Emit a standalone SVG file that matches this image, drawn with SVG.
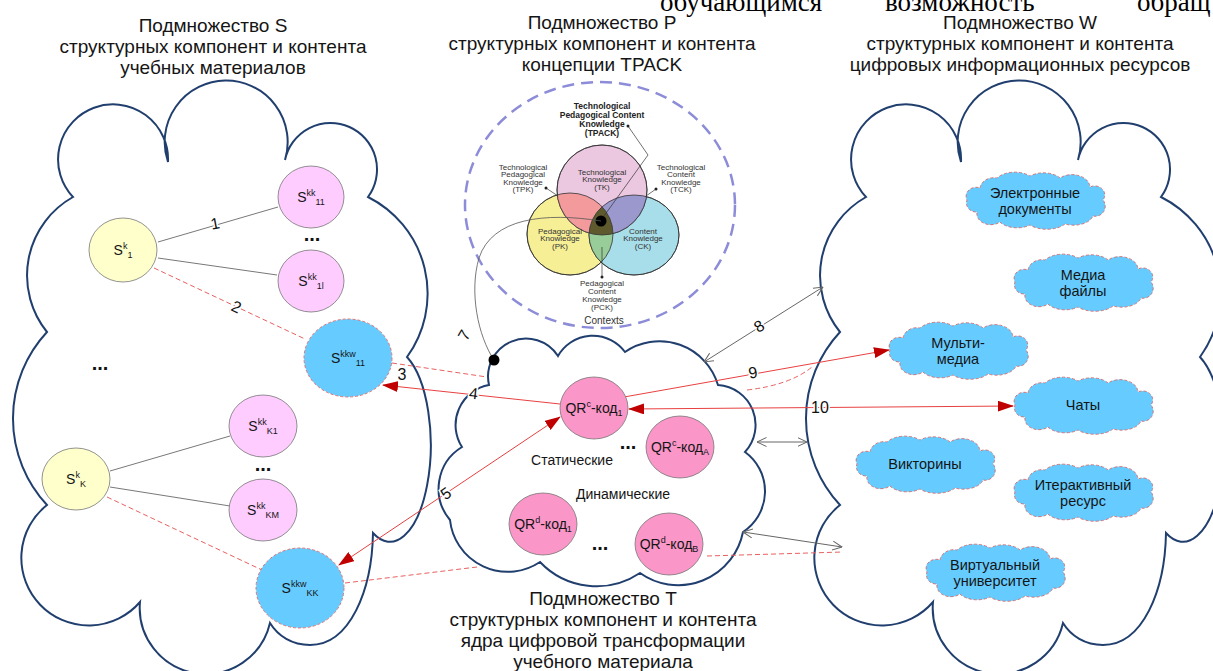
<svg xmlns="http://www.w3.org/2000/svg" xmlns:xlink="http://www.w3.org/1999/xlink" width="1213" height="671" viewBox="0 0 1213 671">
<defs>
<style>
.tt{font-family:"Liberation Sans",Arial,sans-serif;font-size:19px;fill:#151515;text-anchor:middle}
.nt{font-family:"Liberation Sans",Arial,sans-serif;font-size:14px;fill:#151515;text-anchor:middle}
.sp{font-size:9px}
.bt{font-family:"Liberation Sans",Arial,sans-serif;font-size:14.5px;fill:#151515;text-anchor:middle}
.tp{font-family:"Liberation Sans",Arial,sans-serif;font-size:8px;fill:#333;text-anchor:middle}
.tpb{font-family:"Liberation Sans",Arial,sans-serif;font-size:8.5px;font-weight:bold;fill:#222;text-anchor:middle}
.dots{font-family:"Liberation Sans",Arial,sans-serif;font-size:20px;font-weight:bold;fill:#111;text-anchor:middle}
.lbl{font-family:"Liberation Sans",Arial,sans-serif;font-size:16px;fill:#111;text-anchor:middle;paint-order:stroke;stroke:#fff;stroke-width:3px}
.big{fill:#fff;stroke:#213F6E;stroke-width:2}
.ny{fill:#FFFFCC;stroke:#777;stroke-width:0.8}
.np{fill:#FFCCFF;stroke:#777;stroke-width:0.8}
.nb{fill:#66CCFF;stroke:#E06666;stroke-width:0.9;stroke-dasharray:3 2}
.nq{fill:#FA96C8;stroke:#777;stroke-width:0.8}
.cl{fill:#66CCFF;stroke:#D86A6A;stroke-width:0.9;stroke-dasharray:3 2}
.gl{fill:none;stroke:#555;stroke-width:0.8}
.rl{fill:none;stroke:#E84040;stroke-width:1}
.rd{fill:none;stroke:#E86060;stroke-width:1;stroke-dasharray:5 3}
.gr{fill:none;stroke:#666;stroke-width:1}
.top{font-family:"Liberation Serif","Times New Roman",serif;font-size:27px;fill:#000}
</style>
<marker id="ar" viewBox="0 0 16 11" refX="15" refY="5.5" markerWidth="16" markerHeight="11" markerUnits="userSpaceOnUse" orient="auto-start-reverse"><path d="M0,0 L16,5.5 L0,11 z" fill="#C00000"/></marker>
<marker id="ag" viewBox="0 0 10 10" refX="9.5" refY="5" markerWidth="10" markerHeight="10" markerUnits="userSpaceOnUse" orient="auto-start-reverse"><path d="M0,0.5 L9.5,5 L0,9.5" fill="none" stroke="#666" stroke-width="1"/></marker>
<path id="bigcloud" d="M73,197 A55,55 0 1,1 168,162 A61.5,61.5 0 1,1 285,160 A46.5,46.5 0 1,1 368,197 A108,108 0 0,1 407,357 A40,95 0 1,1 373,533 C372,590 350,645 310,645 C292,645 278,636 270,623 A66,66 0 0,1 140,602 A67.5,67.5 0 1,1 47,505 A127,127 0 0,1 47,332 A90,90 0 0,1 73,197 Z"/>
<path id="bc" d="M-55,-12 A14,12 0 0,1 -38,-22 A22,14 0 0,1 -5,-24 A20,12 0 0,1 25,-22 A18,13 0 0,1 55,-13 A10,9 0 0,1 68,0 A10,10 0 0,1 58,16 A20,12 0 0,1 30,24 A22,12 0 0,1 -5,25 A20,12 0 0,1 -35,22 A14,11 0 0,1 -58,12 A10,9 0 0,1 -68,0 A10,9 0 0,1 -55,-12 Z"/>
<ellipse id="ePK" cx="570" cy="234" rx="43" ry="41"/>
<ellipse id="eCK" cx="634" cy="235" rx="45" ry="40"/>
<ellipse id="eTK" cx="602" cy="190" rx="45" ry="45"/>
<clipPath id="cPK"><use xlink:href="#ePK"/></clipPath>
<clipPath id="cCK"><use xlink:href="#eCK"/></clipPath>
<clipPath id="cTK"><use xlink:href="#eTK"/></clipPath>
</defs>
<rect width="1213" height="671" fill="#fff"/>

<text class="top" y="11"><tspan x="660">обучающимся</tspan><tspan x="885">возможность</tspan><tspan x="1137">обращ</tspan></text>

<g id="title-S"><text class="tt" x="213" y="32">Подмножество S</text><text class="tt" x="213" y="53">структурных компонент и контента</text><text class="tt" x="213" y="74">учебных материалов</text></g>
<g id="title-P"><text class="tt" x="602" y="29">Подмножество P</text><text class="tt" x="602" y="50">структурных компонент и контента</text><text class="tt" x="602" y="71">концепции TPACK</text></g>
<g id="title-W"><text class="tt" x="1020" y="29">Подмножество W</text><text class="tt" x="1020" y="50">структурных компонент и контента</text><text class="tt" x="1020" y="71">цифровых информационных ресурсов</text></g>
<g id="title-T"><text class="tt" x="603" y="605">Подмножество T</text><text class="tt" x="603" y="626">структурных компонент и контента</text><text class="tt" x="603" y="647">ядра цифровой трансформации</text><text class="tt" x="603" y="668">учебного материала</text></g>

<g id="cloud-S"><use xlink:href="#bigcloud" class="big"/></g>
<g id="cloud-W"><use xlink:href="#bigcloud" class="big" transform="translate(793,0)"/></g>

<g id="tpack">
<ellipse cx="600" cy="205" rx="135" ry="123" fill="none" stroke="#8C8CD8" stroke-width="2.5" stroke-dasharray="12 7"/>
<use xlink:href="#ePK" fill="#F7EF96" stroke="#333" stroke-width="0.8"/>
<use xlink:href="#eCK" fill="#A8DEE9" stroke="#333" stroke-width="0.8"/>
<use xlink:href="#eTK" fill="#EBC8E0" stroke="#333" stroke-width="0.8"/>
<g clip-path="url(#cTK)"><use xlink:href="#ePK" fill="#F29A9C"/><use xlink:href="#eCK" fill="#9A98CC"/></g>
<g clip-path="url(#cPK)"><use xlink:href="#eCK" fill="#98CC98"/><g clip-path="url(#cCK)"><use xlink:href="#eTK" fill="#5F5A2E"/></g></g>
<use xlink:href="#ePK" fill="none" stroke="#333" stroke-width="0.8"/>
<use xlink:href="#eCK" fill="none" stroke="#333" stroke-width="0.8"/>
<use xlink:href="#eTK" fill="none" stroke="#333" stroke-width="0.8"/>
<text class="tpb"><tspan x="602" y="109">Technological</tspan><tspan x="602" y="118">Pedagogical Content</tspan><tspan x="602" y="127">Knowledge</tspan><tspan x="602" y="136">(TPACK)</tspan></text>
<text class="tp"><tspan x="602" y="174.5">Technological</tspan><tspan x="602" y="182">Knowledge</tspan><tspan x="602" y="189.5">(TK)</tspan></text>
<text class="tp"><tspan x="523" y="169.5">Technological</tspan><tspan x="523" y="177">Pedagogical</tspan><tspan x="523" y="184.5">Knowledge</tspan><tspan x="523" y="192">(TPK)</tspan></text>
<text class="tp"><tspan x="681" y="169.5">Technological</tspan><tspan x="681" y="177">Content</tspan><tspan x="681" y="184.5">Knowledge</tspan><tspan x="681" y="192">(TCK)</tspan></text>
<text class="tp"><tspan x="560" y="233.5">Pedagogical</tspan><tspan x="560" y="241">Knowledge</tspan><tspan x="560" y="248.5">(PK)</tspan></text>
<text class="tp"><tspan x="643" y="233.5">Content</tspan><tspan x="643" y="241">Knowledge</tspan><tspan x="643" y="248.5">(CK)</tspan></text>
<text class="tp"><tspan x="602" y="286">Pedagogical</tspan><tspan x="602" y="294">Content</tspan><tspan x="602" y="302">Knowledge</tspan><tspan x="602" y="309.5">(PCK)</tspan></text>
<text class="tp" x="604" y="323.5" style="font-size:10px">Contexts</text>
<g stroke="#333" stroke-width="0.7" fill="none"><path d="M628,126 L648,155 L604,216"/><path d="M546,188 L558,196"/><path d="M656,189 L646,196"/><path d="M602,277 L602,247"/></g>
<g fill="#222"><circle cx="628" cy="126" r="1.5"/><circle cx="546" cy="188" r="1.5"/><circle cx="656" cy="189" r="1.5"/><circle cx="602" cy="277" r="1.5"/></g>
<circle cx="601" cy="221" r="5.5" fill="#000"/>
</g>

<g id="connectors-under">
<path class="rd" d="M345,583 L477,567"/>
</g>

<g id="cloud-T"><path class="big" d="M489,385 A38,38 0 0,1 558,356 A40,40 0 0,1 625,352 A61,61 0 0,1 718,385 A40,40 0 0,1 745,452 A48.6,48.6 0 0,1 743,532 A66,66 0 0,1 640,573 A78,78 0 0,1 540,562 A58,58 0 0,1 450,520 A48.8,48.8 0 0,1 462,447 A40.7,40.7 0 0,1 489,385 Z"/></g>

<g id="connectors">
<path class="gl" d="M158,242 L278,207"/>
<path class="gl" d="M158,258 L277,275"/>
<path class="rd" d="M154,268 L305,339"/>
<path class="gl" d="M110,471 L230,436"/>
<path class="gl" d="M110,487 L230,506"/>
<path class="rd" d="M107,497 L262,570"/>
<path class="gl" d="M601,221 C545,212 492,218 479,258 C469,292 478,336 494,360"/>
<circle cx="494" cy="360" r="5.5" fill="#000"/>
<path class="rd" d="M392,363 L487,377"/>
<path class="rl" d="M560,404 L383,385" marker-end="url(#ar)"/>
<path class="rl" d="M560,417 L339,565" marker-start="url(#ar)" marker-end="url(#ar)"/>
<path class="rd" d="M707,556 L843,552"/>
<path class="rl" d="M624,397 L889,350" marker-end="url(#ar)"/>
<path class="rl" d="M1013,406 L629,409" marker-start="url(#ar)" marker-end="url(#ar)"/>
<path class="rd" d="M747,390 Q790,385 812,367"/>
<path class="gr" d="M704,362 L823,287" marker-start="url(#ag)" marker-end="url(#ag)"/>
<path class="gr" d="M757,442 L807,442" marker-start="url(#ag)" marker-end="url(#ag)"/>
<path class="gr" d="M743,532 L842,547" marker-start="url(#ag)" marker-end="url(#ag)"/>
<text class="lbl" transform="translate(216,229) rotate(-11)">1</text>
<text class="lbl" transform="translate(234,312) rotate(25)">2</text>
<text class="lbl" x="402" y="380">3</text>
<text class="lbl" transform="translate(473,399) rotate(6)">4</text>
<text class="lbl" transform="translate(449,498) rotate(-34)">5</text>
<text class="lbl" transform="translate(469,338) rotate(-60)">7</text>
<text class="lbl" transform="translate(762,331) rotate(-32)">8</text>
<text class="lbl" transform="translate(754,378) rotate(-10)">9</text>
<text class="lbl" x="820" y="413">10</text>
</g>

<g id="n-Sk1"><ellipse class="ny" cx="123" cy="250" rx="34" ry="32"/><text class="nt" x="123" y="255">S<tspan class="sp" dy="-6">k</tspan><tspan class="sp" dy="9">1</tspan></text></g>
<g id="n-Skk11"><ellipse class="np" cx="311" cy="197" rx="33" ry="31"/><text class="nt" x="311" y="202">S<tspan class="sp" dy="-6">kk</tspan><tspan class="sp" dy="9">11</tspan></text></g>
<g id="n-Skk1l"><ellipse class="np" cx="311" cy="281" rx="33" ry="31"/><text class="nt" x="311" y="286">S<tspan class="sp" dy="-6">kk</tspan><tspan class="sp" dy="9">1l</tspan></text></g>
<g id="n-Skkw11"><ellipse class="nb" cx="348" cy="358" rx="44" ry="39"/><text class="nt" x="348" y="363">S<tspan class="sp" dy="-6">kkw</tspan><tspan class="sp" dy="9">11</tspan></text></g>
<g id="n-SkK"><ellipse class="ny" cx="76" cy="479" rx="34" ry="31"/><text class="nt" x="76" y="484">S<tspan class="sp" dy="-6">k</tspan><tspan class="sp" dy="9">K</tspan></text></g>
<g id="n-SkkK1"><ellipse class="np" cx="263" cy="426" rx="34" ry="31"/><text class="nt" x="263" y="431">S<tspan class="sp" dy="-6">kk</tspan><tspan class="sp" dy="9">K1</tspan></text></g>
<g id="n-SkkKM"><ellipse class="np" cx="263" cy="510" rx="34" ry="31"/><text class="nt" x="263" y="515">S<tspan class="sp" dy="-6">kk</tspan><tspan class="sp" dy="9">KM</tspan></text></g>
<g id="n-SkkwKK"><ellipse class="nb" cx="300" cy="588" rx="44" ry="40"/><text class="nt" x="300" y="593">S<tspan class="sp" dy="-6">kkw</tspan><tspan class="sp" dy="9">KK</tspan></text></g>
<g id="dots-S"><text class="dots" x="312" y="241">...</text><text class="dots" x="100" y="370">...</text><text class="dots" x="263" y="471">...</text></g>

<g id="n-QRc1"><ellipse class="nq" cx="594" cy="408" rx="34" ry="31"/><text class="nt" x="594" y="413">QR<tspan class="sp" dy="-6">c</tspan><tspan dy="6">-код</tspan><tspan class="sp" dy="3">1</tspan></text></g>
<g id="n-QRcA"><ellipse class="nq" cx="680" cy="447" rx="34" ry="31"/><text class="nt" x="680" y="452">QR<tspan class="sp" dy="-6">c</tspan><tspan dy="6">-код</tspan><tspan class="sp" dy="3">A</tspan></text></g>
<g id="n-QRd1"><ellipse class="nq" cx="543" cy="524" rx="34" ry="31"/><text class="nt" x="543" y="529">QR<tspan class="sp" dy="-6">d</tspan><tspan dy="6">-код</tspan><tspan class="sp" dy="3">1</tspan></text></g>
<g id="n-QRdB"><ellipse class="nq" cx="669" cy="544" rx="34" ry="31"/><text class="nt" x="669" y="549">QR<tspan class="sp" dy="-6">d</tspan><tspan dy="6">-код</tspan><tspan class="sp" dy="3">B</tspan></text></g>
<g id="labels-T"><text class="dots" x="628" y="449">...</text><text class="dots" x="600" y="550">...</text><text class="nt" x="572" y="465">Статические</text><text class="nt" x="623" y="499">Динамические</text></g>

<g id="n-edoc"><use xlink:href="#bc" class="cl" x="1035" y="200"/><text class="bt"><tspan x="1035" y="198">Электронные</tspan><tspan x="1035" y="214">документы</tspan></text></g>
<g id="n-media"><use xlink:href="#bc" class="cl" x="1083" y="282"/><text class="bt"><tspan x="1083" y="280">Медиа</tspan><tspan x="1083" y="296">файлы</tspan></text></g>
<g id="n-multi"><use xlink:href="#bc" class="cl" x="958" y="350"/><text class="bt"><tspan x="958" y="348">Мульти-</tspan><tspan x="958" y="364">медиа</tspan></text></g>
<g id="n-chat"><use xlink:href="#bc" class="cl" x="1083" y="405"/><text class="bt" x="1083" y="410">Чаты</text></g>
<g id="n-quiz"><use xlink:href="#bc" class="cl" x="925" y="464"/><text class="bt" x="925" y="469">Викторины</text></g>
<g id="n-inter"><use xlink:href="#bc" class="cl" x="1083" y="492"/><text class="bt"><tspan x="1083" y="490">Итерактивный</tspan><tspan x="1083" y="506">ресурс</tspan></text></g>
<g id="n-vuni"><use xlink:href="#bc" class="cl" x="995" y="572"/><text class="bt"><tspan x="995" y="570">Виртуальный</tspan><tspan x="995" y="586">университет</tspan></text></g>
</svg>
